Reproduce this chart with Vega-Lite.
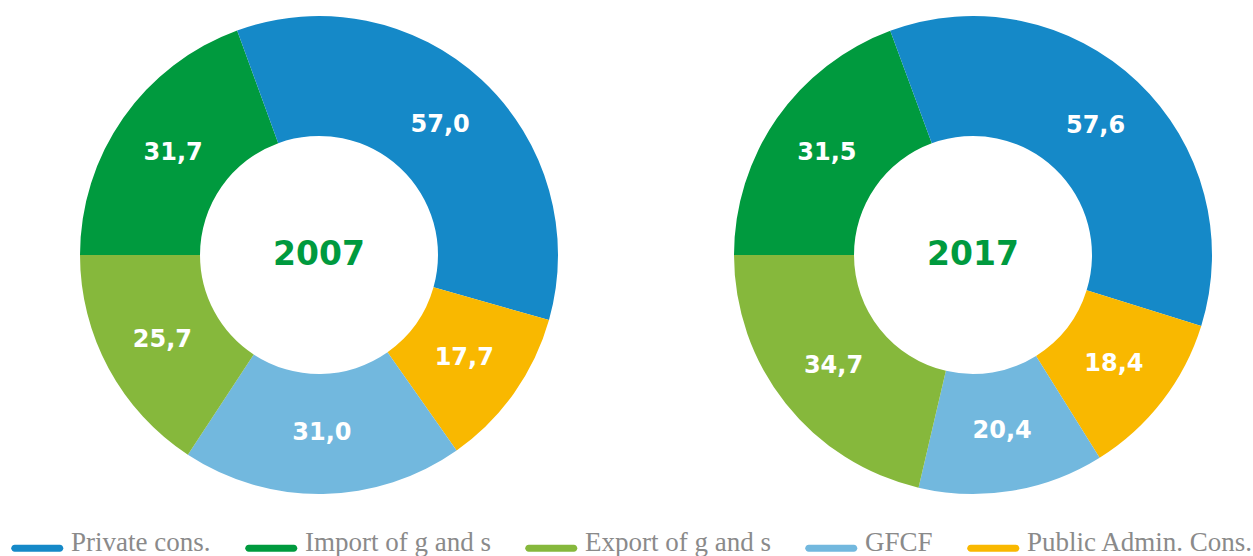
{
  "$schema": "https://vega.github.io/schema/vega-lite/v6.json",
  "padding": {"left": 12, "top": 15, "right": 0, "bottom": 0},
  "background": "white",
  "data": {
    "values": [
      {"year": "2007", "component": "Import of g and s", "value": 31.7, "rank": 1},
      {"year": "2007", "component": "Private cons.", "value": 57.0, "rank": 2},
      {"year": "2007", "component": "Public Admin. Cons.", "value": 17.7, "rank": 3},
      {"year": "2007", "component": "GFCF", "value": 31.0, "rank": 4},
      {"year": "2007", "component": "Export of g and s", "value": 25.7, "rank": 5},
      {"year": "2017", "component": "Import of g and s", "value": 31.5, "rank": 1},
      {"year": "2017", "component": "Private cons.", "value": 57.6, "rank": 2},
      {"year": "2017", "component": "Public Admin. Cons.", "value": 18.4, "rank": 3},
      {"year": "2017", "component": "GFCF", "value": 20.4, "rank": 4},
      {"year": "2017", "component": "Export of g and s", "value": 34.7, "rank": 5}
    ]
  },
  "facet": {"column": {"field": "year", "type": "nominal", "header": null}},
  "spacing": 94,
  "spec": {
    "width": 560,
    "height": 480,
    "layer": [
      {
        "mark": {"type": "arc", "innerRadius": 119, "outerRadius": 239},
        "encoding": {
          "theta": {"field": "value", "type": "quantitative", "stack": "normalize", "scale": {"range": [-1.5707963, 4.712389]}},
          "order": {"field": "rank", "type": "quantitative"},
          "color": {
            "field": "component",
            "type": "nominal",
            "scale": {
              "domain": ["Private cons.", "Import of g and s", "Export of g and s", "GFCF", "Public Admin. Cons."],
              "range": ["#1589c8", "#009a3e", "#86b83c", "#72b8de", "#f9b800"]
            },
            "legend": {
              "orient": "none",
              "legendX": -27,
              "legendY": 514,
              "direction": "horizontal",
              "title": null,
              "symbolType": "M -1.54,0.3 L 4.9,0.3 A 0.5,0.5 0 0 1 4.9,1.3 L -1.54,1.3 A 0.5,0.5 0 0 1 -1.54,0.3 Z",
              "symbolSize": 196,
              "symbolStrokeWidth": 0,
              "symbolOpacity": 1,
              "labelFont": "Liberation Serif",
              "labelFontSize": 27,
              "labelColor": "#8a8a8a",
              "labelOffset": 32,
              "columnPadding": 34,
              "labelLimit": 400
            }
          }
        }
      },
      {
        "mark": {"type": "text", "radius": 178, "font": "DejaVu Sans", "fontWeight": "bold", "fontSize": 24, "fill": "white"},
        "encoding": {
          "theta": {"field": "value", "type": "quantitative", "stack": "normalize", "scale": {"range": [-1.5707963, 4.712389]}},
          "order": {"field": "rank", "type": "quantitative"},
          "detail": {"field": "component", "type": "nominal"},
          "text": {"field": "value", "type": "quantitative", "format": ".1f"}
        }
      },
      {
        "transform": [{"filter": "datum.rank == 1"}],
        "mark": {"type": "text", "font": "DejaVu Sans", "fontWeight": "bold", "fontSize": 33, "fill": "#009a3e"},
        "encoding": {"text": {"field": "year", "type": "nominal"}}
      }
    ]
  },
  "config": {
    "view": {"stroke": null},
    "locale": {"number": {"decimal": ",", "thousands": ".", "grouping": [3], "currency": ["", " €"]}}
  }
}
